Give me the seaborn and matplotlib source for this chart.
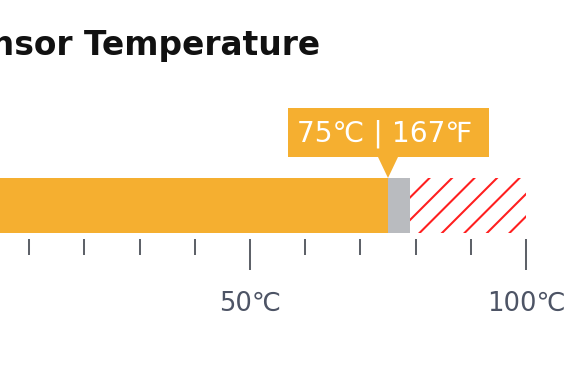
import numpy as np
import pandas as pd
import matplotlib
matplotlib.use("Agg")
import matplotlib.pyplot as plt
import matplotlib.transforms as mtransforms
from matplotlib.patches import Polygon
import seaborn as sns

# ---- data ----
SENSOR = ["Sensor"]
TEMP_C = [75]
TEMP_F = [167]
WARN_START_C = 79
SCALE_MAX_C = 100
MAJOR_TICKS = [0, 50, 100]
MAJOR_LABELS = ["0℃", "50℃", "100℃"]
MINOR_TICKS = [10, 20, 30, 40, 60, 70, 80, 90]
TITLE = "Sensor Temperature"

# ---- style ----
ORANGE = "#F5AF30"
GRAY = "#B9BBBF"
RED = "#FF1F1F"
TICK_COLOR = "#5E6269"
LABEL_COLOR = "#4D5465"

DPI = 135
W, H = 585, 390

sns.set_theme(style="white")
plt.rcParams["font.family"] = ["DejaVu Sans", "Noto Sans CJK SC"]
plt.rcParams["hatch.linewidth"] = 1.1
plt.rcParams["hatch.color"] = RED

fig = plt.figure(figsize=(W / DPI, H / DPI), dpi=DPI)
fig.patch.set_facecolor("white")
ax = fig.add_axes([-26 / W, (H - 239) / H, 552 / W, 61 / H])
ax.set_facecolor("white")

df = pd.DataFrame({"sensor": SENSOR, "temp": TEMP_C})
sns.barplot(data=df, x="temp", y="sensor", orient="h", width=1.0,
            color=ORANGE, saturation=1, linewidth=0, ax=ax)
ax.barh(0, WARN_START_C - TEMP_C[0], left=TEMP_C[0], height=1.0,
        color=GRAY, linewidth=0)
ax.barh(0, SCALE_MAX_C - WARN_START_C, left=WARN_START_C, height=1.0,
        facecolor="white", edgecolor=RED, hatch="//", linewidth=0)

ax.set_xlim(0, SCALE_MAX_C)
ax.set_ylim(0.5 + 6 / 55, -0.5)
ax.set_xticks(MAJOR_TICKS, MAJOR_LABELS)
ax.set_xticks(MINOR_TICKS, minor=True)
ax.tick_params(axis="x", which="major", bottom=True, length=16.5, width=1.07,
               color=TICK_COLOR, pad=11.0, labelsize=13.8, labelcolor=LABEL_COLOR)
ax.tick_params(axis="x", which="minor", bottom=True, length=8.5, width=1.07,
               color=TICK_COLOR)
ax.set_yticks([])
ax.set_xlabel("")
ax.set_ylabel("")
for s in ax.spines.values():
    s.set_visible(False)

# ---- callout anchored at the current temperature, bar top ----
anchor = mtransforms.ScaledTranslation(TEMP_C[0], -0.5, ax.transData)
trans = mtransforms.Affine2D() + anchor
verts = [(-100, 21), (-10, 21), (0, 0), (10, 21), (101, 21), (101, 70), (-100, 70)]
callout = Polygon(verts, closed=True, transform=trans, facecolor=ORANGE,
                  edgecolor="none", clip_on=False)
ax.add_artist(callout)
ax.annotate(f"{TEMP_C[0]}℃ | {TEMP_F[0]}℉", xy=(TEMP_C[0], -0.5),
            xytext=(-3.5, 36), textcoords="offset pixels", ha="center",
            va="baseline", color="white", fontsize=15.0, annotation_clip=False)

fig.text(320 / W, 1 - 55 / H, TITLE, ha="right", va="baseline",
         fontsize=17.5, fontweight="bold", color="#111111")

fig.savefig("out.png", dpi=DPI)
